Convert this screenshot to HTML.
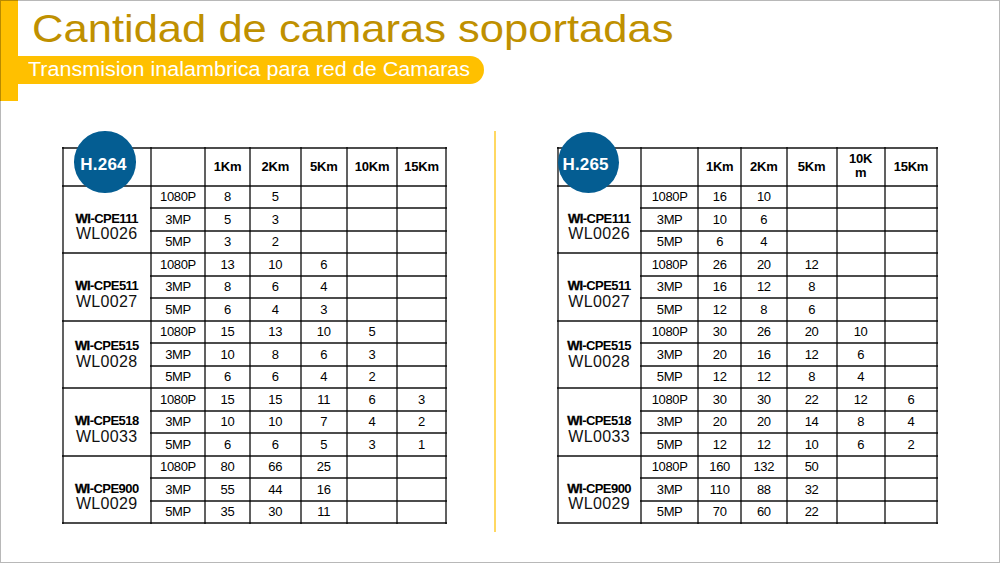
<!DOCTYPE html><html><head><meta charset="utf-8"><style>

*{margin:0;padding:0;box-sizing:border-box}
html,body{width:1000px;height:563px;overflow:hidden;background:#fff}
body{position:relative;font-family:"Liberation Sans",sans-serif}
.frame{position:absolute;left:0;top:0;width:1000px;height:563px;border:1px solid rgba(0,0,0,0.28);z-index:50;pointer-events:none}
.l{position:absolute;background:rgba(0,0,0,0.62)}
.h{background:rgba(0,0,0,0.7)}
.td,.hd,.m1,.m2,.ct{position:absolute;text-align:center;white-space:nowrap;color:#000}
.td{font-size:13px;line-height:0;letter-spacing:-0.35px}
.hd{font-size:13px;font-weight:bold;line-height:0;letter-spacing:-0.2px}
.m1{font-size:13px;font-weight:bold;line-height:0;letter-spacing:-0.55px}
.m2{font-size:16px;line-height:0;letter-spacing:0.35px;color:#111}
.wi{-webkit-text-stroke:0.35px #000}
.circ{position:absolute;border-radius:50%;background:#045d92}
.ct{font-size:17px;font-weight:bold;color:#fff;line-height:0;letter-spacing:0.2px}
.title{position:absolute;left:32px;top:28.6px;line-height:0;font-size:38.5px;color:#bf9000;white-space:nowrap;transform-origin:0 0;transform:scaleX(1.131)}
.bar{position:absolute;left:0;top:0;width:17.6px;height:100.5px;background:#ffc000}
.band{position:absolute;left:0;top:56px;width:484px;height:28px;background:#ffc000;border-radius:0 14px 14px 0}
.sub{position:absolute;left:27.6px;top:69.8px;line-height:0;font-size:19.3px;color:#fff;white-space:nowrap;transform-origin:0 0;transform:scaleX(1.117)}
.div{position:absolute;left:493.9px;top:130.5px;width:2.2px;height:401.5px;background:#ffd862}

</style></head><body>
<div class="bar"></div><div class="band"></div>
<div class="title" id="title">Cantidad de camaras soportadas</div>
<div class="sub" id="sub">Transmision inalambrica para red de Camaras</div>
<div class="div"></div>
<div class="hd" style="left:205.00px;width:45.00px;top:166.75px">1Km</div>
<div class="hd" style="left:250.00px;width:50.50px;top:166.75px">2Km</div>
<div class="hd" style="left:300.50px;width:46.50px;top:166.75px">5Km</div>
<div class="hd" style="left:347.00px;width:50.00px;top:166.75px">10Km</div>
<div class="hd" style="left:397.00px;width:49.00px;top:166.75px">15Km</div>
<div class="m1" style="left:62.50px;width:88.50px;top:218.60px"><span class="wi">WI</span>-CPE111</div>
<div class="m2" style="left:62.50px;width:88.50px;top:234.30px">WL0026</div>
<div class="td" style="left:151.00px;width:54.00px;top:197.15px">1080P</div>
<div class="td" style="left:205.00px;width:45.00px;top:197.15px">8</div>
<div class="td" style="left:250.00px;width:50.50px;top:197.15px">5</div>
<div class="td" style="left:151.00px;width:54.00px;top:219.65px">3MP</div>
<div class="td" style="left:205.00px;width:45.00px;top:219.65px">5</div>
<div class="td" style="left:250.00px;width:50.50px;top:219.65px">3</div>
<div class="td" style="left:151.00px;width:54.00px;top:242.15px">5MP</div>
<div class="td" style="left:205.00px;width:45.00px;top:242.15px">3</div>
<div class="td" style="left:250.00px;width:50.50px;top:242.15px">2</div>
<div class="m1" style="left:62.50px;width:88.50px;top:286.10px"><span class="wi">WI</span>-CPE511</div>
<div class="m2" style="left:62.50px;width:88.50px;top:301.80px">WL0027</div>
<div class="td" style="left:151.00px;width:54.00px;top:264.65px">1080P</div>
<div class="td" style="left:205.00px;width:45.00px;top:264.65px">13</div>
<div class="td" style="left:250.00px;width:50.50px;top:264.65px">10</div>
<div class="td" style="left:300.50px;width:46.50px;top:264.65px">6</div>
<div class="td" style="left:151.00px;width:54.00px;top:287.15px">3MP</div>
<div class="td" style="left:205.00px;width:45.00px;top:287.15px">8</div>
<div class="td" style="left:250.00px;width:50.50px;top:287.15px">6</div>
<div class="td" style="left:300.50px;width:46.50px;top:287.15px">4</div>
<div class="td" style="left:151.00px;width:54.00px;top:309.65px">5MP</div>
<div class="td" style="left:205.00px;width:45.00px;top:309.65px">6</div>
<div class="td" style="left:250.00px;width:50.50px;top:309.65px">4</div>
<div class="td" style="left:300.50px;width:46.50px;top:309.65px">3</div>
<div class="m1" style="left:62.50px;width:88.50px;top:346.20px"><span class="wi">WI</span>-CPE515</div>
<div class="m2" style="left:62.50px;width:88.50px;top:362.00px">WL0028</div>
<div class="td" style="left:151.00px;width:54.00px;top:332.15px">1080P</div>
<div class="td" style="left:205.00px;width:45.00px;top:332.15px">15</div>
<div class="td" style="left:250.00px;width:50.50px;top:332.15px">13</div>
<div class="td" style="left:300.50px;width:46.50px;top:332.15px">10</div>
<div class="td" style="left:347.00px;width:50.00px;top:332.15px">5</div>
<div class="td" style="left:151.00px;width:54.00px;top:354.65px">3MP</div>
<div class="td" style="left:205.00px;width:45.00px;top:354.65px">10</div>
<div class="td" style="left:250.00px;width:50.50px;top:354.65px">8</div>
<div class="td" style="left:300.50px;width:46.50px;top:354.65px">6</div>
<div class="td" style="left:347.00px;width:50.00px;top:354.65px">3</div>
<div class="td" style="left:151.00px;width:54.00px;top:377.15px">5MP</div>
<div class="td" style="left:205.00px;width:45.00px;top:377.15px">6</div>
<div class="td" style="left:250.00px;width:50.50px;top:377.15px">6</div>
<div class="td" style="left:300.50px;width:46.50px;top:377.15px">4</div>
<div class="td" style="left:347.00px;width:50.00px;top:377.15px">2</div>
<div class="m1" style="left:62.50px;width:88.50px;top:421.10px"><span class="wi">WI</span>-CPE518</div>
<div class="m2" style="left:62.50px;width:88.50px;top:436.80px">WL0033</div>
<div class="td" style="left:151.00px;width:54.00px;top:399.65px">1080P</div>
<div class="td" style="left:205.00px;width:45.00px;top:399.65px">15</div>
<div class="td" style="left:250.00px;width:50.50px;top:399.65px">15</div>
<div class="td" style="left:300.50px;width:46.50px;top:399.65px">11</div>
<div class="td" style="left:347.00px;width:50.00px;top:399.65px">6</div>
<div class="td" style="left:397.00px;width:49.00px;top:399.65px">3</div>
<div class="td" style="left:151.00px;width:54.00px;top:422.15px">3MP</div>
<div class="td" style="left:205.00px;width:45.00px;top:422.15px">10</div>
<div class="td" style="left:250.00px;width:50.50px;top:422.15px">10</div>
<div class="td" style="left:300.50px;width:46.50px;top:422.15px">7</div>
<div class="td" style="left:347.00px;width:50.00px;top:422.15px">4</div>
<div class="td" style="left:397.00px;width:49.00px;top:422.15px">2</div>
<div class="td" style="left:151.00px;width:54.00px;top:444.65px">5MP</div>
<div class="td" style="left:205.00px;width:45.00px;top:444.65px">6</div>
<div class="td" style="left:250.00px;width:50.50px;top:444.65px">6</div>
<div class="td" style="left:300.50px;width:46.50px;top:444.65px">5</div>
<div class="td" style="left:347.00px;width:50.00px;top:444.65px">3</div>
<div class="td" style="left:397.00px;width:49.00px;top:444.65px">1</div>
<div class="m1" style="left:62.50px;width:88.50px;top:488.60px"><span class="wi">WI</span>-CPE900</div>
<div class="m2" style="left:62.50px;width:88.50px;top:504.30px">WL0029</div>
<div class="td" style="left:151.00px;width:54.00px;top:467.15px">1080P</div>
<div class="td" style="left:205.00px;width:45.00px;top:467.15px">80</div>
<div class="td" style="left:250.00px;width:50.50px;top:467.15px">66</div>
<div class="td" style="left:300.50px;width:46.50px;top:467.15px">25</div>
<div class="td" style="left:151.00px;width:54.00px;top:489.65px">3MP</div>
<div class="td" style="left:205.00px;width:45.00px;top:489.65px">55</div>
<div class="td" style="left:250.00px;width:50.50px;top:489.65px">44</div>
<div class="td" style="left:300.50px;width:46.50px;top:489.65px">16</div>
<div class="td" style="left:151.00px;width:54.00px;top:512.15px">5MP</div>
<div class="td" style="left:205.00px;width:45.00px;top:512.15px">35</div>
<div class="td" style="left:250.00px;width:50.50px;top:512.15px">30</div>
<div class="td" style="left:300.50px;width:46.50px;top:512.15px">11</div>
<div class="l" style="left:61.50px;top:147.00px;width:2.0px;height:377.00px"></div>
<div class="l" style="left:150.00px;top:147.00px;width:2.0px;height:377.00px"></div>
<div class="l" style="left:204.00px;top:147.00px;width:2.0px;height:377.00px"></div>
<div class="l" style="left:249.00px;top:147.00px;width:2.0px;height:377.00px"></div>
<div class="l" style="left:299.50px;top:147.00px;width:2.0px;height:377.00px"></div>
<div class="l" style="left:346.00px;top:147.00px;width:2.0px;height:377.00px"></div>
<div class="l" style="left:396.00px;top:147.00px;width:2.0px;height:377.00px"></div>
<div class="l" style="left:445.00px;top:147.00px;width:2.0px;height:377.00px"></div>
<div class="l h" style="left:61.50px;top:147.00px;width:385.50px;height:2.0px"></div>
<div class="l h" style="left:61.50px;top:184.50px;width:385.50px;height:2.0px"></div>
<div class="l h" style="left:150.00px;top:207.00px;width:297.00px;height:2.0px"></div>
<div class="l h" style="left:150.00px;top:229.50px;width:297.00px;height:2.0px"></div>
<div class="l h" style="left:61.50px;top:252.00px;width:385.50px;height:2.0px"></div>
<div class="l h" style="left:150.00px;top:274.50px;width:297.00px;height:2.0px"></div>
<div class="l h" style="left:150.00px;top:297.00px;width:297.00px;height:2.0px"></div>
<div class="l h" style="left:61.50px;top:319.50px;width:385.50px;height:2.0px"></div>
<div class="l h" style="left:150.00px;top:342.00px;width:297.00px;height:2.0px"></div>
<div class="l h" style="left:150.00px;top:364.50px;width:297.00px;height:2.0px"></div>
<div class="l h" style="left:61.50px;top:387.00px;width:385.50px;height:2.0px"></div>
<div class="l h" style="left:150.00px;top:409.50px;width:297.00px;height:2.0px"></div>
<div class="l h" style="left:150.00px;top:432.00px;width:297.00px;height:2.0px"></div>
<div class="l h" style="left:61.50px;top:454.50px;width:385.50px;height:2.0px"></div>
<div class="l h" style="left:150.00px;top:477.00px;width:297.00px;height:2.0px"></div>
<div class="l h" style="left:150.00px;top:499.50px;width:297.00px;height:2.0px"></div>
<div class="l h" style="left:61.50px;top:522.00px;width:385.50px;height:2.0px"></div>
<div class="circ" style="left:74.00px;top:131.25px;width:61.50px;height:61.50px"></div>
<div class="ct" style="left:72.80px;width:61.50px;top:164.60px">H.264</div>
<div class="hd" style="left:698.40px;width:42.60px;top:166.50px">1Km</div>
<div class="hd" style="left:741.00px;width:45.60px;top:166.50px">2Km</div>
<div class="hd" style="left:786.60px;width:50.00px;top:166.50px">5Km</div>
<div class="hd" style="left:836.60px;width:48.00px;top:151.50px;line-height:14px">10K<br>m</div>
<div class="hd" style="left:884.60px;width:52.70px;top:166.50px">15Km</div>
<div class="m1" style="left:557.60px;width:83.20px;top:218.60px"><span class="wi">WI</span>-CPE111</div>
<div class="m2" style="left:557.60px;width:83.20px;top:234.30px">WL0026</div>
<div class="td" style="left:640.80px;width:57.60px;top:197.15px">1080P</div>
<div class="td" style="left:698.40px;width:42.60px;top:197.15px">16</div>
<div class="td" style="left:741.00px;width:45.60px;top:197.15px">10</div>
<div class="td" style="left:640.80px;width:57.60px;top:219.65px">3MP</div>
<div class="td" style="left:698.40px;width:42.60px;top:219.65px">10</div>
<div class="td" style="left:741.00px;width:45.60px;top:219.65px">6</div>
<div class="td" style="left:640.80px;width:57.60px;top:242.15px">5MP</div>
<div class="td" style="left:698.40px;width:42.60px;top:242.15px">6</div>
<div class="td" style="left:741.00px;width:45.60px;top:242.15px">4</div>
<div class="m1" style="left:557.60px;width:83.20px;top:286.10px"><span class="wi">WI</span>-CPE511</div>
<div class="m2" style="left:557.60px;width:83.20px;top:301.80px">WL0027</div>
<div class="td" style="left:640.80px;width:57.60px;top:264.65px">1080P</div>
<div class="td" style="left:698.40px;width:42.60px;top:264.65px">26</div>
<div class="td" style="left:741.00px;width:45.60px;top:264.65px">20</div>
<div class="td" style="left:786.60px;width:50.00px;top:264.65px">12</div>
<div class="td" style="left:640.80px;width:57.60px;top:287.15px">3MP</div>
<div class="td" style="left:698.40px;width:42.60px;top:287.15px">16</div>
<div class="td" style="left:741.00px;width:45.60px;top:287.15px">12</div>
<div class="td" style="left:786.60px;width:50.00px;top:287.15px">8</div>
<div class="td" style="left:640.80px;width:57.60px;top:309.65px">5MP</div>
<div class="td" style="left:698.40px;width:42.60px;top:309.65px">12</div>
<div class="td" style="left:741.00px;width:45.60px;top:309.65px">8</div>
<div class="td" style="left:786.60px;width:50.00px;top:309.65px">6</div>
<div class="m1" style="left:557.60px;width:83.20px;top:346.20px"><span class="wi">WI</span>-CPE515</div>
<div class="m2" style="left:557.60px;width:83.20px;top:362.00px">WL0028</div>
<div class="td" style="left:640.80px;width:57.60px;top:332.15px">1080P</div>
<div class="td" style="left:698.40px;width:42.60px;top:332.15px">30</div>
<div class="td" style="left:741.00px;width:45.60px;top:332.15px">26</div>
<div class="td" style="left:786.60px;width:50.00px;top:332.15px">20</div>
<div class="td" style="left:836.60px;width:48.00px;top:332.15px">10</div>
<div class="td" style="left:640.80px;width:57.60px;top:354.65px">3MP</div>
<div class="td" style="left:698.40px;width:42.60px;top:354.65px">20</div>
<div class="td" style="left:741.00px;width:45.60px;top:354.65px">16</div>
<div class="td" style="left:786.60px;width:50.00px;top:354.65px">12</div>
<div class="td" style="left:836.60px;width:48.00px;top:354.65px">6</div>
<div class="td" style="left:640.80px;width:57.60px;top:377.15px">5MP</div>
<div class="td" style="left:698.40px;width:42.60px;top:377.15px">12</div>
<div class="td" style="left:741.00px;width:45.60px;top:377.15px">12</div>
<div class="td" style="left:786.60px;width:50.00px;top:377.15px">8</div>
<div class="td" style="left:836.60px;width:48.00px;top:377.15px">4</div>
<div class="m1" style="left:557.60px;width:83.20px;top:421.10px"><span class="wi">WI</span>-CPE518</div>
<div class="m2" style="left:557.60px;width:83.20px;top:436.80px">WL0033</div>
<div class="td" style="left:640.80px;width:57.60px;top:399.65px">1080P</div>
<div class="td" style="left:698.40px;width:42.60px;top:399.65px">30</div>
<div class="td" style="left:741.00px;width:45.60px;top:399.65px">30</div>
<div class="td" style="left:786.60px;width:50.00px;top:399.65px">22</div>
<div class="td" style="left:836.60px;width:48.00px;top:399.65px">12</div>
<div class="td" style="left:884.60px;width:52.70px;top:399.65px">6</div>
<div class="td" style="left:640.80px;width:57.60px;top:422.15px">3MP</div>
<div class="td" style="left:698.40px;width:42.60px;top:422.15px">20</div>
<div class="td" style="left:741.00px;width:45.60px;top:422.15px">20</div>
<div class="td" style="left:786.60px;width:50.00px;top:422.15px">14</div>
<div class="td" style="left:836.60px;width:48.00px;top:422.15px">8</div>
<div class="td" style="left:884.60px;width:52.70px;top:422.15px">4</div>
<div class="td" style="left:640.80px;width:57.60px;top:444.65px">5MP</div>
<div class="td" style="left:698.40px;width:42.60px;top:444.65px">12</div>
<div class="td" style="left:741.00px;width:45.60px;top:444.65px">12</div>
<div class="td" style="left:786.60px;width:50.00px;top:444.65px">10</div>
<div class="td" style="left:836.60px;width:48.00px;top:444.65px">6</div>
<div class="td" style="left:884.60px;width:52.70px;top:444.65px">2</div>
<div class="m1" style="left:557.60px;width:83.20px;top:488.60px"><span class="wi">WI</span>-CPE900</div>
<div class="m2" style="left:557.60px;width:83.20px;top:504.30px">WL0029</div>
<div class="td" style="left:640.80px;width:57.60px;top:467.15px">1080P</div>
<div class="td" style="left:698.40px;width:42.60px;top:467.15px">160</div>
<div class="td" style="left:741.00px;width:45.60px;top:467.15px">132</div>
<div class="td" style="left:786.60px;width:50.00px;top:467.15px">50</div>
<div class="td" style="left:640.80px;width:57.60px;top:489.65px">3MP</div>
<div class="td" style="left:698.40px;width:42.60px;top:489.65px">110</div>
<div class="td" style="left:741.00px;width:45.60px;top:489.65px">88</div>
<div class="td" style="left:786.60px;width:50.00px;top:489.65px">32</div>
<div class="td" style="left:640.80px;width:57.60px;top:512.15px">5MP</div>
<div class="td" style="left:698.40px;width:42.60px;top:512.15px">70</div>
<div class="td" style="left:741.00px;width:45.60px;top:512.15px">60</div>
<div class="td" style="left:786.60px;width:50.00px;top:512.15px">22</div>
<div class="l" style="left:556.60px;top:146.50px;width:2.0px;height:377.50px"></div>
<div class="l" style="left:639.80px;top:146.50px;width:2.0px;height:377.50px"></div>
<div class="l" style="left:697.40px;top:146.50px;width:2.0px;height:377.50px"></div>
<div class="l" style="left:740.00px;top:146.50px;width:2.0px;height:377.50px"></div>
<div class="l" style="left:785.60px;top:146.50px;width:2.0px;height:377.50px"></div>
<div class="l" style="left:835.60px;top:146.50px;width:2.0px;height:377.50px"></div>
<div class="l" style="left:883.60px;top:146.50px;width:2.0px;height:377.50px"></div>
<div class="l" style="left:936.30px;top:146.50px;width:2.0px;height:377.50px"></div>
<div class="l h" style="left:556.60px;top:146.50px;width:381.70px;height:2.0px"></div>
<div class="l h" style="left:556.60px;top:184.50px;width:381.70px;height:2.0px"></div>
<div class="l h" style="left:639.80px;top:207.00px;width:298.50px;height:2.0px"></div>
<div class="l h" style="left:639.80px;top:229.50px;width:298.50px;height:2.0px"></div>
<div class="l h" style="left:556.60px;top:252.00px;width:381.70px;height:2.0px"></div>
<div class="l h" style="left:639.80px;top:274.50px;width:298.50px;height:2.0px"></div>
<div class="l h" style="left:639.80px;top:297.00px;width:298.50px;height:2.0px"></div>
<div class="l h" style="left:556.60px;top:319.50px;width:381.70px;height:2.0px"></div>
<div class="l h" style="left:639.80px;top:342.00px;width:298.50px;height:2.0px"></div>
<div class="l h" style="left:639.80px;top:364.50px;width:298.50px;height:2.0px"></div>
<div class="l h" style="left:556.60px;top:387.00px;width:381.70px;height:2.0px"></div>
<div class="l h" style="left:639.80px;top:409.50px;width:298.50px;height:2.0px"></div>
<div class="l h" style="left:639.80px;top:432.00px;width:298.50px;height:2.0px"></div>
<div class="l h" style="left:556.60px;top:454.50px;width:381.70px;height:2.0px"></div>
<div class="l h" style="left:639.80px;top:477.00px;width:298.50px;height:2.0px"></div>
<div class="l h" style="left:639.80px;top:499.50px;width:298.50px;height:2.0px"></div>
<div class="l h" style="left:556.60px;top:522.00px;width:381.70px;height:2.0px"></div>
<div class="circ" style="left:557.70px;top:131.60px;width:61.20px;height:61.20px"></div>
<div class="ct" style="left:555.00px;width:61.20px;top:164.80px">H.265</div>
<div class="frame"></div>
</body></html>
